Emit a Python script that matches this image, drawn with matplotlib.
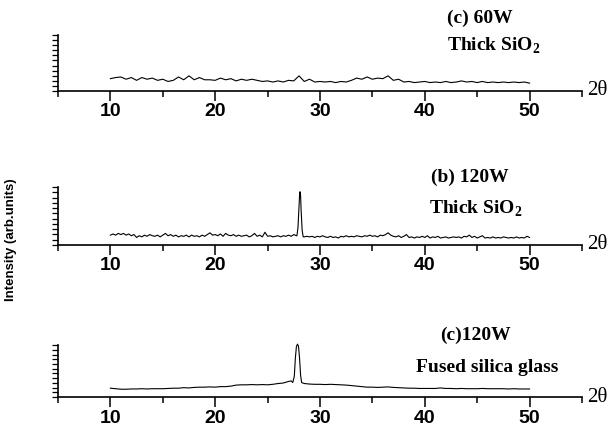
import numpy as np
import matplotlib
matplotlib.use("Agg")
from matplotlib import pyplot as plt
from matplotlib.ticker import MultipleLocator

plt.rcParams["mathtext.fontset"] = "custom"
plt.rcParams["mathtext.rm"] = "Liberation Serif"
plt.rcParams["mathtext.bf"] = "Liberation Serif:bold"

# 2-theta sampling (degrees) of the baseline scans
X_TOP_STEP = 0.5
X_MID_STEP = 0.25
X_BOT_STEP = 0.5

# (c) 60W, thick SiO2 -- baseline only, 10..50 deg every 0.5 deg
top_y = [
    0.22, 0.24, 0.25, 0.21, 0.24, 0.19, 0.24, 0.21, 0.23, 0.19,
    0.21, 0.17, 0.19, 0.25, 0.20, 0.27, 0.20, 0.24, 0.20, 0.20,
    0.19, 0.23, 0.20, 0.22, 0.18, 0.21, 0.19, 0.21, 0.19, 0.17,
    0.18, 0.16, 0.18, 0.16, 0.19, 0.18, 0.27, 0.17, 0.21, 0.16,
    0.17, 0.16, 0.17, 0.15, 0.17, 0.16, 0.19, 0.23, 0.21, 0.25,
    0.21, 0.23, 0.22, 0.27, 0.19, 0.21, 0.16, 0.17, 0.15, 0.16,
    0.17, 0.15, 0.16, 0.15, 0.17, 0.15, 0.16, 0.18, 0.16, 0.17,
    0.15, 0.17, 0.15, 0.16, 0.15, 0.16, 0.15, 0.16, 0.15, 0.16,
    0.14,
]

# (b) 120W, thick SiO2 -- baseline every 0.25 deg plus the peak near 28.1
mid_y = [
    0.17, 0.19, 0.17, 0.20, 0.18, 0.20, 0.17, 0.19,
    0.16, 0.18, 0.13, 0.16, 0.14, 0.17, 0.15, 0.18,
    0.16, 0.15, 0.17, 0.14, 0.17, 0.20, 0.16, 0.18,
    0.15, 0.17, 0.14, 0.16, 0.15, 0.17, 0.14, 0.17,
    0.15, 0.16, 0.14, 0.17, 0.15, 0.18, 0.21, 0.17,
    0.18, 0.16, 0.19, 0.15, 0.20, 0.17, 0.16, 0.18,
    0.15, 0.17, 0.15, 0.16, 0.17, 0.14, 0.16, 0.20,
    0.15, 0.17, 0.14, 0.22, 0.15, 0.16, 0.14, 0.15,
    0.16, 0.14, 0.16, 0.15, 0.17, 0.15, 0.18, 0.16,
    0.16, 0.16, 0.14, 0.15, 0.14, 0.15, 0.13, 0.15,
    0.14, 0.16, 0.14, 0.13, 0.15, 0.13, 0.14, 0.12,
    0.15, 0.14, 0.16, 0.14, 0.15, 0.14, 0.16, 0.15,
    0.14, 0.16, 0.15, 0.17, 0.15, 0.16, 0.14, 0.17,
    0.16, 0.18, 0.21, 0.17, 0.15, 0.14, 0.16, 0.13,
    0.15, 0.18, 0.13, 0.14, 0.12, 0.14, 0.13, 0.15,
    0.13, 0.16, 0.12, 0.14, 0.13, 0.15, 0.12, 0.13,
    0.14, 0.12, 0.13, 0.14, 0.13, 0.14, 0.12, 0.15,
    0.14, 0.17, 0.13, 0.15, 0.12, 0.14, 0.16, 0.12,
    0.13, 0.12, 0.14, 0.12, 0.13, 0.12, 0.14, 0.13,
    0.12, 0.13, 0.12, 0.14, 0.12, 0.13, 0.12, 0.15,
    0.13,
]
mid_peak_x = [27.8, 27.9, 28.0, 28.05, 28.1, 28.15, 28.2, 28.3, 28.4]
mid_peak_y = [0.16, 0.30, 0.65, 0.85, 0.92, 0.85, 0.60, 0.25, 0.14]

# (c) 120W, fused silica glass -- smooth baseline plus peak near 27.9
bot_y = [
    0.17, 0.16, 0.15, 0.15, 0.155, 0.155, 0.16, 0.155, 0.16, 0.16,
    0.16, 0.165, 0.17, 0.17, 0.18, 0.175, 0.185, 0.19, 0.19, 0.195,
    0.19, 0.20, 0.20, 0.21, 0.23, 0.235, 0.235, 0.24, 0.235, 0.24,
    0.235, 0.245, 0.26, 0.27, 0.30, 0.29, 0.50, 0.26, 0.25, 0.245,
    0.245, 0.24, 0.245, 0.24, 0.235, 0.23, 0.22, 0.21, 0.20, 0.19,
    0.19, 0.185, 0.19, 0.195, 0.185, 0.18, 0.175, 0.17, 0.17, 0.165,
    0.165, 0.165, 0.165, 0.175, 0.165, 0.165, 0.16, 0.165, 0.16, 0.16,
    0.16, 0.165, 0.16, 0.16, 0.16, 0.16, 0.155, 0.16, 0.155, 0.155,
    0.155,
]
bot_peak_x = [27.25, 27.4, 27.55, 27.65, 27.75, 27.85, 27.95, 28.05, 28.15, 28.25, 28.35, 28.45]
bot_peak_y = [0.31, 0.28, 0.40, 0.75, 0.97, 1.02, 0.98, 0.75, 0.42, 0.28, 0.27, 0.265]

XTICKS = [10, 20, 30, 40, 50]


def merge(step, base_y, peak_x=None, peak_y=None):
    x = 10 + step * np.arange(len(base_y))
    y = np.array(base_y)
    if peak_x is None:
        return x, y
    keep = (x < peak_x[0]) | (x > peak_x[-1])
    x = np.concatenate([x[keep], peak_x])
    y = np.concatenate([y[keep], peak_y])
    order = np.argsort(x)
    return x[order], y[order]


def style_axis(ax):
    ax.set_xlim(5, 55)
    ax.set_ylim(0, 1)
    for s in ("top", "right"):
        ax.spines[s].set_visible(False)
    ax.spines["left"].set_linewidth(1.2)
    ax.spines["bottom"].set_linewidth(1.2)
    ax.set_xticks(XTICKS)
    ax.xaxis.set_minor_locator(MultipleLocator(5))
    ax.tick_params(axis="x", which="major", direction="out", length=7, width=1.1, pad=2)
    ax.tick_params(axis="x", which="minor", direction="out", length=4, width=1.1)
    ax.set_yticks(np.linspace(0, 1, 12))
    ax.set_yticklabels([])
    ax.tick_params(axis="y", direction="out", length=4, width=0.9)
    for lab in ax.get_xticklabels():
        lab.set_fontfamily("Liberation Sans")
        lab.set_fontweight("bold")
        lab.set_fontsize(14)
    ax.text(1.01, 0.0, "2θ", transform=ax.transAxes, ha="left", va="center",
            fontfamily="Liberation Serif", fontsize=15)


fig = plt.figure(figsize=(6.11, 4.32), dpi=100)

panels = [
    (0.7894, 0.1296, merge(X_TOP_STEP, top_y)),
    (0.4329, 0.1340, merge(X_MID_STEP, mid_y, mid_peak_x, mid_peak_y)),
    (0.0810, 0.1200, merge(X_BOT_STEP, bot_y, bot_peak_x, bot_peak_y)),
]
for bottom, height, (x, y) in panels:
    ax = fig.add_axes([0.0949, bottom, 0.8576, height])
    ax.plot(x, y, color="black", lw=0.8, clip_on=False)
    style_axis(ax)

serif = dict(fontfamily="Liberation Serif", fontweight="bold", fontsize=14)
sio2 = "Thick SiO$_\\mathbf{2}$"
fig.text(447 / 611, 1 - 18 / 432, "(c) 60W", ha="left", va="center", **serif)
fig.text(447 / 611, 1 - 46 / 432, sio2, ha="left", va="center", **serif)
fig.text(470 / 611, 1 - 177 / 432, "(b) 120W", ha="center", va="center", **serif)
fig.text(476 / 611, 1 - 209 / 432, sio2, ha="center", va="center", **serif)
fig.text(475 / 611, 1 - 335 / 432, "(c)120W", ha="center", va="center", **serif)
fig.text(487 / 611, 1 - 368 / 432, "Fused silica glass", ha="center", va="center", **serif)

fig.text(11 / 611, 1 - 240 / 432, "Intensity (arb.units)", rotation=90, ha="center", va="center",
         fontfamily="Liberation Sans", fontweight="bold", fontsize=9.5)

fig.savefig("out.png", dpi=100)
